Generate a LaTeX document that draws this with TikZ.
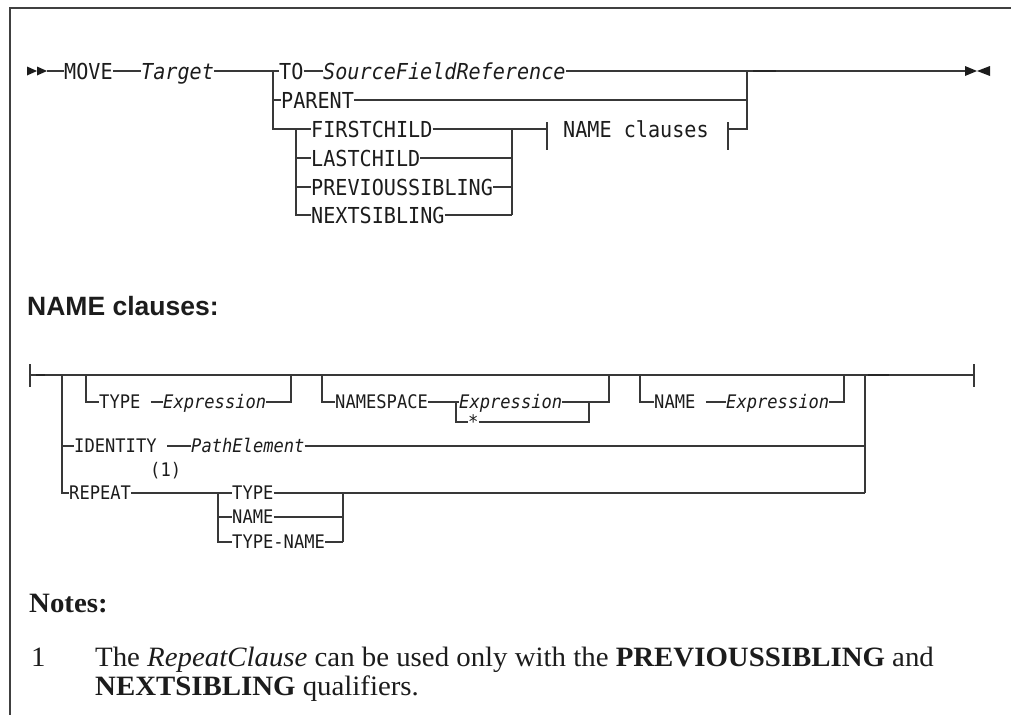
\documentclass[tikz,border=0pt]{standalone}
\usepackage{fontspec}
\setmainfont{Liberation Serif}
\newfontfamily\monof[FakeStretch=0.915]{DejaVu Sans Mono}
\newfontfamily\headf{Liberation Sans}
\newfontfamily\notef[FakeStretch=1.03]{Liberation Serif}
\definecolor{lc}{HTML}{383838}
\definecolor{tc}{HTML}{1C1C1C}
\newcommand{\fA}{\monof\fontsize{22}{26}\selectfont}
\newcommand{\fB}{\monof\fontsize{18.7}{22}\selectfont}
\newcommand{\fN}{\notef\fontsize{28}{34}\selectfont}
\begin{document}
\begin{tikzpicture}[x=1pt,y=-1pt,
  ln/.style={draw=lc, line width=1.6pt},
  blob/.style={draw=black!85, line width=2.5pt},
  frame/.style={draw=black!75, line width=2pt},
  ka/.style={inner sep=0pt, anchor=west, font=\fA, text=tc, text height=16pt, text depth=0pt},
  kai/.style={ka, font=\fA\itshape},
  kb/.style={inner sep=0pt, anchor=west, font=\fB, text=tc, text height=13.6pt, text depth=0pt},
  kbi/.style={kb, font=\fB\itshape},
  note/.style={inner sep=0pt, anchor=base west, font=\fN, text=tc},
  tip/.style={fill=tc}]
\useasboundingbox (0,0) rectangle (1011,715);
% frame
\coordinate (fr0) at (10,8);
\coordinate (fr1) at (1011,8);
\coordinate (fr2) at (10,715);
\draw[frame] (fr1) -- (fr0) -- (fr2);

% ================= main diagram =================
\coordinate (s0) at (27,71);
\coordinate (s1) at (47,71);
\fill[tip] (27,66.5) -- (37,71) -- (27,75.5) -- cycle;
\fill[tip] (37,66.5) -- (47,71) -- (37,75.5) -- cycle;
\node[ka] (move) at (64,71) {MOVE};
\node[kai] (target) at (141,71) {Target};
\coordinate (j1) at (273,71);
\coordinate (j1p) at (273,100);
\coordinate (j1b) at (273,129);
\node[ka] (to) at (279,71) {TO};
\node[kai] (sfr) at (323,71) {SourceFieldReference};
\node[ka] (parent) at (281,100) {PARENT};
\coordinate (i1) at (296,129);
\coordinate (i1e) at (296,215);
\node[ka] (fc) at (311,129) {FIRSTCHILD};
\node[ka] (lch) at (311,158) {LASTCHILD};
\node[ka] (ps) at (311,187) {PREVIOUSSIBLING};
\node[ka] (ns) at (311,215) {NEXTSIBLING};
\coordinate (i2) at (512,129);
\coordinate (i2e) at (512,215);
\coordinate (nb1) at (547,129);
\node[ka] (ncl) at (563,129) {NAME clauses};
\coordinate (nb2) at (728,129);
\coordinate (j2) at (747,71);
\coordinate (j2p) at (747,100);
\coordinate (j2b) at (747,129);
\coordinate (e0) at (965,71);

\draw[ln] (s1) -- (move.west);
\draw[ln] (move.east) -- (target.west);
\draw[ln] (target.east) -- (j1) -- (to.west);
\draw[ln] (to.east) -- (sfr.west);
\draw[ln] (sfr.east) -- (j2) -- (e0);
\draw[ln] (j1) -- (j1b) -- (fc.west);
\draw[ln] (j1p) -- (parent.west);
\draw[ln] (parent.east) -- (j2p);
\draw[ln] (j2) -- (j2b) -- (nb2);
\draw[ln] (i1) -- (i1e) -- (ns.west);
\draw[ln] (i1 |- lch.west) -- (lch.west);
\draw[ln] (i1 |- ps.west) -- (ps.west);
\draw[ln] (fc.east) -- (i2) -- (nb1);
\draw[ln] (i2) -- (i2e);
\draw[ln] (lch.east) -- (i2 |- lch.east);
\draw[ln] (ps.east) -- (i2 |- ps.east);
\draw[ln] (ns.east) -- (i2e);
\draw[ln] ([yshift=7pt]nb1) -- ([yshift=-21pt]nb1);
\draw[ln] ([yshift=7pt]nb2) -- ([yshift=-21pt]nb2);
\draw[blob] ([xshift=6pt]j2) -- ([xshift=29pt]j2);
\fill[tip] (965,66) -- (977,71) -- (965,76) -- cycle;
\fill[tip] (990,66) -- (977,71) -- (990,76) -- cycle;

% ================= NAME clauses =================
\node[inner sep=0pt, anchor=base west, font=\headf\bfseries\fontsize{26.5}{30}\selectfont, text=tc] (head) at (27,315) {NAME clauses:};

\coordinate (t0) at (30,375);
\coordinate (t9) at (974,375);
\draw[ln] (t0) -- (t9);
\draw[ln] ([yshift=11pt]t0) -- ([yshift=-12pt]t0);
\draw[ln] ([yshift=11pt]t9) -- ([yshift=-12pt]t9);
\draw[blob] ([xshift=6pt]t0) -- ([xshift=15pt]t0);

\coordinate (k1) at (62,375);
\coordinate (k1i) at (62,446);
\coordinate (k1r) at (62,493);
\coordinate (k2) at (865,375);
\coordinate (k2i) at (865,446);
\coordinate (k2r) at (865,493);
\draw[blob] ([xshift=3pt]k2) -- ([xshift=24pt]k2);

% TYPE
\coordinate (a1) at (86,375);
\coordinate (a1b) at (86,402);
\node[kb] (typ) at (99,402) {TYPE\ \null};
\node[kbi] (exp1) at (163,402) {Expression};
\coordinate (a2b) at (291,402);
\coordinate (a2) at (291,375);
\draw[ln] (a1) -- (a1b) -- (typ.west);
\draw[ln] (typ.east) -- (exp1.west);
\draw[ln] (exp1.east) -- (a2b) -- (a2);

% NAMESPACE
\coordinate (b1) at (322,375);
\coordinate (b1b) at (322,402);
\node[kb] (nsp) at (335,402) {NAMESPACE};
\coordinate (b2) at (456,402);
\coordinate (b2s) at (456,422);
\node[kbi] (exp2) at (459,402) {Expression};
\node[kb] (star) at (468,422) {*};
\coordinate (b3s) at (589,422);
\coordinate (b3) at (589,402);
\coordinate (b4) at (609,402);
\coordinate (b4t) at (609,375);
\draw[ln] (b1) -- (b1b) -- (nsp.west);
\draw[ln] (nsp.east) -- (b2) -- (exp2.west);
\draw[ln] (b2) -- (b2s) -- (star.west);
\draw[ln] (star.east) -- (b3s) -- (b3);
\draw[ln] (exp2.east) -- (b4) -- (b4t);

% NAME
\coordinate (c1) at (640,375);
\coordinate (c1b) at (640,402);
\node[kb] (nm) at (654,402) {NAME\ \null};
\node[kbi] (exp3) at (726,402) {Expression};
\coordinate (c2b) at (844,402);
\coordinate (c2) at (844,375);
\draw[ln] (c1) -- (c1b) -- (nm.west);
\draw[ln] (nm.east) -- (exp3.west);
\draw[ln] (exp3.east) -- (c2b) -- (c2);

% IDENTITY
\node[kb] (ident) at (74,446) {IDENTITY\ \null};
\node[kbi] (pe) at (191,446) {PathElement};
\draw[ln] (k1i) -- (ident.west);
\draw[ln] (ident.east) -- (pe.west);
\draw[ln] (pe.east) -- (k2i);
\draw[ln] (k2) -- (k2r);

% REPEAT
\node[kb] (rep) at (69,493) {REPEAT};
\node[kb] (fn) at (150,470) {(1)};
\coordinate (r1) at (218,493);
\coordinate (r1e) at (218,542);
\node[kb] (rt) at (232,493) {TYPE};
\node[kb] (rn) at (232,517) {NAME};
\node[kb] (rtn) at (232,542) {TYPE-NAME};
\coordinate (r2) at (343,493);
\coordinate (r2e) at (343,542);
\draw[ln] (k1) -- (k1r) -- (rep.west);
\draw[ln] (rep.east) -- (r1) -- (rt.west);
\draw[ln] (r1) -- (r1e) -- (rtn.west);
\draw[ln] (r1 |- rn.west) -- (rn.west);
\draw[ln] (rt.east) -- (r2) -- (k2r);
\draw[ln] (r2) -- (r2e);
\draw[ln] (rn.east) -- (r2 |- rn.east);
\draw[ln] (rtn.east) -- (r2e);

% ================= Notes =================
\node[note, font=\fN\bfseries] (notes) at (29,612) {Notes:};
\node[note] (n1) at (31,666) {1};
\node[note] (nt1) at (95,666) {The \textit{RepeatClause} can be used only with the \textbf{PREVIOUSSIBLING} and};
\node[note] (nt2) at (95,695) {\textbf{NEXTSIBLING} qualifiers.};
\end{tikzpicture}
\end{document}
